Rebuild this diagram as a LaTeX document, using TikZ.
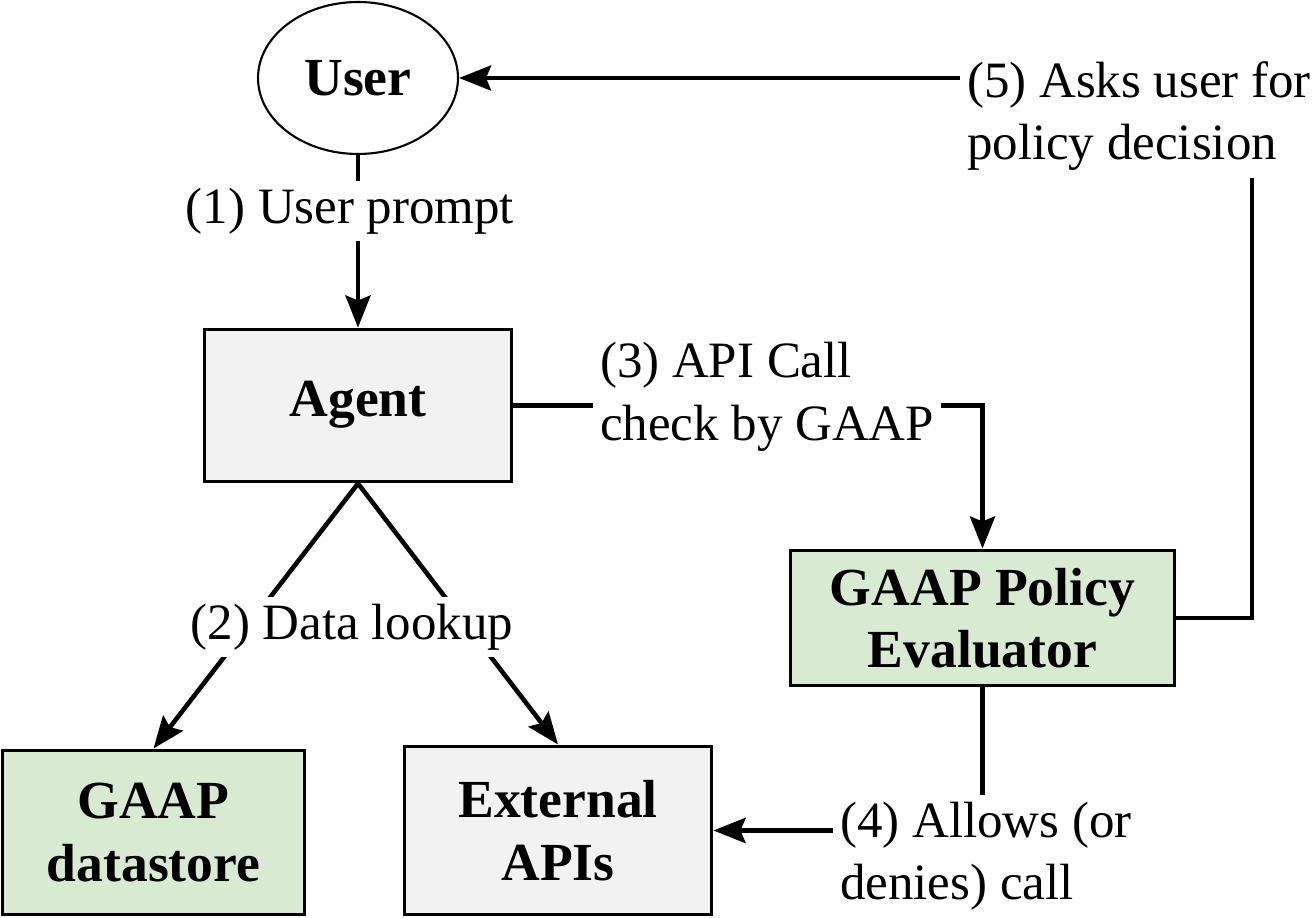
\documentclass[tikz,border=0pt]{standalone}
\usepackage{fontspec}
\setmainfont{Liberation Serif}
\usetikzlibrary{arrows.meta,positioning,shapes.geometric}
\definecolor{boxgray}{RGB}{242,242,242}
\definecolor{boxgreen}{RGB}{217,234,211}
\tikzset{
  userbubble/.style={ellipse,draw,line width=1.2pt,minimum width=4cm,minimum height=3.04cm,
    inner sep=0pt,font=\fontsize{30.5}{35.5}\selectfont\bfseries},
  agentbox/.style={draw,line width=1.7pt,fill=boxgray,align=center,
    font=\fontsize{30.5}{35.5}\selectfont\bfseries},
  policybox/.style={agentbox,fill=boxgreen},
  steplabel/.style={fill=white,align=left,inner sep=4pt,font=\fontsize{29}{35.5}\selectfont},
  stepline/.style={line width=2.6pt},
  steparrow/.style={stepline,-{Stealth[length=0.64cm,width=0.5cm,inset=0.1cm]}},
}
\begin{document}
\begin{tikzpicture}[x=0.02cm,y=-0.02cm]
    \useasboundingbox (0,0) rectangle (1312,918);
    \node[userbubble] (user) at (358,78) {User};
    \node[agentbox,minimum width=6.16cm,minimum height=3.06cm,text depth=0.25cm] (agent) at (358,405.5) {Agent};
    \node[policybox,minimum width=7.7cm,minimum height=2.72cm] (evaluator) at (982.5,618) {GAAP Policy\\Evaluator};
    \node[policybox,minimum width=6.06cm,minimum height=3.3cm] (datastore) at (153.5,832.5) {GAAP\\datastore};
    \node[agentbox,minimum width=6.16cm,minimum height=3.38cm] (apis) at (558,830.5) {External\\APIs};
    \coordinate (riser) at (1252,0);
    % connectors
    \draw[steparrow] (user) -- (agent);
    \draw[steparrow] (agent.south) -- (datastore.north);
    \draw[steparrow] (agent.south) -- (apis.north);
    \draw[steparrow] (agent.east) -| (evaluator.north);
    \draw[steparrow] (evaluator.south) |- (apis.east);
    \draw[steparrow] (evaluator.east) -| (riser |- user.east) -- (user.east);
    % step labels
    \node[steplabel] (prompt) at (350,211) {(1) User prompt};
    \node[steplabel] (lookup) at (352,627) {(2) Data lookup};
    \node[steplabel] (apicall) at (767,397) {(3) API Call\\check by GAAP};
    \node[steplabel] (allows) at (986,856) {(4) Allows (or\\denies) call};
    \node[steplabel] (asks) at (1139,116) {(5) Asks user for\\policy decision};
\end{tikzpicture}
\end{document}
